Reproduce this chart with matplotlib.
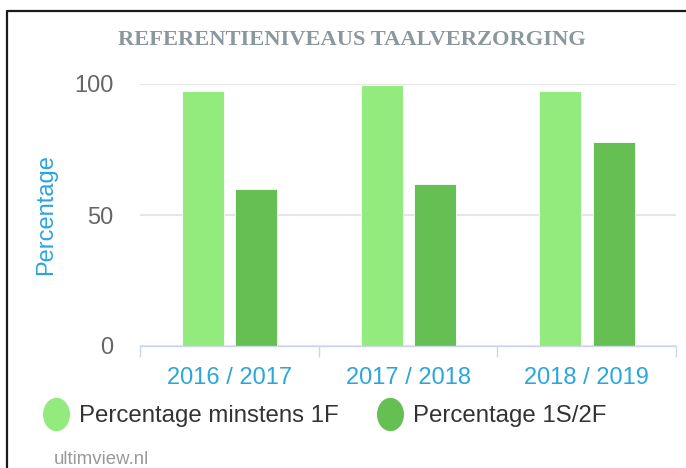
import numpy as np
import matplotlib
matplotlib.use('Agg')
import matplotlib.pyplot as plt
from matplotlib.lines import Line2D
from matplotlib.path import Path
from matplotlib.transforms import Affine2D

# data
years = ['2016 / 2017', '2017 / 2018', '2018 / 2019']
pct_1f = [97.5, 99.5, 97.5]
pct_2f = [60, 62, 78]
series_names = ['Percentage minstens 1F', 'Percentage 1S/2F']
colors = ['#93eb7e', '#65bf53']

plt.rcParams['font.family'] = ['Liberation Sans', 'DejaVu Sans']

W, H = 686, 468
fig = plt.figure(figsize=(W / 100, H / 100), dpi=100)

# outer frame: only left and top edges are visible
frame_x = [6.5 / W, 6.5 / W, 1.05]
frame_y = [-0.05, 1 - 10.5 / H, 1 - 10.5 / H]
fig.add_artist(Line2D(frame_x, frame_y, transform=fig.transFigure,
                      color='#1a1a1a', linewidth=1.6))

ax = fig.add_axes([140 / W, 1 - 346 / H, (676 - 140) / W, (346 - 84) / H])

x = np.arange(len(years))
w = 0.235
ax.bar(x - 0.148, pct_1f, width=w, color=colors[0], edgecolor='white', linewidth=0.6, zorder=3)
ax.bar(x + 0.152, pct_2f, width=w, color=colors[1], edgecolor='white', linewidth=0.6, zorder=3)

ax.set_xlim(-0.5, 2.5)
ax.set_ylim(0, 100)
ax.set_yticks([0, 50, 100])
ax.grid(axis='y', color='#e6e6e6', linewidth=1.5, zorder=0)
ax.set_xticks(x)
ax.set_xticklabels(years)
ax.set_xticks([-0.5, 0.5, 1.5, 2.5], minor=True)

for s in ['top', 'right', 'left']:
    ax.spines[s].set_visible(False)
ax.spines['bottom'].set_color('#ccd6eb')
ax.spines['bottom'].set_linewidth(1.0)
ax.spines['bottom'].set_zorder(4)

ax.tick_params(axis='y', length=0, pad=19, labelsize=17, labelcolor='#666666')
ax.tick_params(axis='x', which='major', length=0, pad=15, labelsize=17, labelcolor='#2aa6dc')
ax.tick_params(axis='x', which='minor', length=8, width=1.0, color='#ccd6eb')

ax.set_ylabel('Percentage', fontsize=17, color='#2aa6dc')
ax.yaxis.set_label_coords(-(140 - 57) / (676 - 140), 0.5)

fig.text(352 / W, 1 - 40 / H, 'REFERENTIENIVEAUS TAALVERZORGING',
         family='Liberation Serif', weight='bold', fontsize=16.2,
         color='#8a979e', ha='center', va='center')

# legend with tall rounded markers
circ = Path.unit_circle()
tall = circ.transformed(Affine2D().scale(1.0, 1.25))
handles = [Line2D([], [], linestyle='none', marker=tall, markersize=23,
                  markerfacecolor=c, markeredgecolor=c) for c in colors]
fig.legend(handles, series_names, loc='center left',
           bbox_to_anchor=(42 / W, 1 - 416 / H), ncol=2, frameon=False,
           fontsize=17.3, labelcolor='#333333', handlelength=1.2,
           handletextpad=0.36, columnspacing=1.5, borderpad=0,
           borderaxespad=0)

fig.text(54 / W, 1 - 459 / H, 'ultimview.nl', fontsize=13.4,
         color='#999999', ha='left', va='center')

fig.savefig('out.png', dpi=100)
